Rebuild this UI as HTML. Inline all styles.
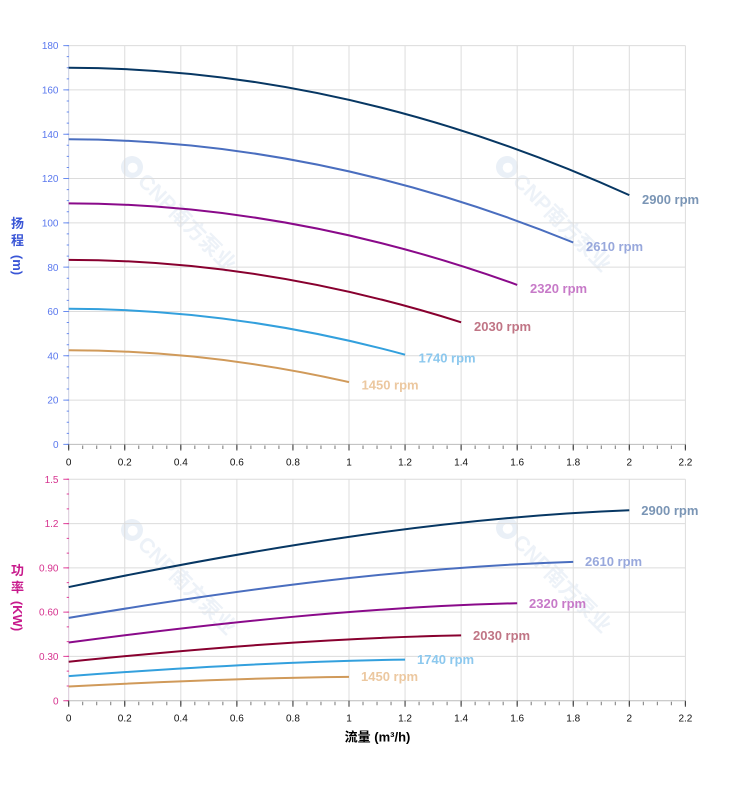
<!DOCTYPE html>
<html>
<head>
<meta charset="utf-8">
<style>
html,body{margin:0;padding:0;background:#fff;}
svg{display:block;font-family:"Liberation Sans","Noto Sans CJK SC",sans-serif;}
.yt{font-size:10px;text-anchor:end;}
.xt{font-size:10px;text-anchor:middle;fill:#111;}
.lbl{font-size:13px;font-weight:bold;}
.wm{font-size:21px;font-weight:bold;fill:#edf2f8;font-family:"Liberation Sans","Noto Sans CJK SC",sans-serif;}
</style>
</head>
<body>
<svg width="752" height="797" viewBox="0 0 752 797" xmlns="http://www.w3.org/2000/svg">
<rect x="0" y="0" width="752" height="797" fill="#fff"/>

<!-- watermarks -->
<g transform="translate(132,167) rotate(45)">
  <circle cx="0" cy="0" r="11" fill="#eaf0f7"/><circle cx="1" cy="0" r="5" fill="#fff"/>
  <text class="wm" x="14" y="7.5">CNP南方泵业</text>
</g>
<g transform="translate(507,167) rotate(45)">
  <circle cx="0" cy="0" r="11" fill="#eaf0f7"/><circle cx="1" cy="0" r="5" fill="#fff"/>
  <text class="wm" x="14" y="7.5">CNP南方泵业</text>
</g>
<g transform="translate(132,530) rotate(45)">
  <circle cx="0" cy="0" r="11" fill="#eaf0f7"/><circle cx="1" cy="0" r="5" fill="#fff"/>
  <text class="wm" x="14" y="7.5">CNP南方泵业</text>
</g>
<g transform="translate(507,528) rotate(45)">
  <circle cx="0" cy="0" r="11" fill="#eaf0f7"/><circle cx="1" cy="0" r="5" fill="#fff"/>
  <text class="wm" x="14" y="7.5">CNP南方泵业</text>
</g>

<!-- TOP CHART GRID -->
<g stroke="#dcdcdc" stroke-width="1" fill="none">
  <path d="M68.7 400.09H685.4M68.7 355.78H685.4M68.7 311.46H685.4M68.7 267.15H685.4M68.7 222.84H685.4M68.7 178.53H685.4M68.7 134.22H685.4M68.7 89.9H685.4M68.7 45.6H685.4"/>
  <path d="M124.76 45.6V444.4M180.82 45.6V444.4M236.88 45.6V444.4M292.94 45.6V444.4M349 45.6V444.4M405.06 45.6V444.4M461.12 45.6V444.4M517.18 45.6V444.4M573.24 45.6V444.4M629.3 45.6V444.4M685.4 45.6V444.4"/>
</g>
<line x1="68.7" y1="45.6" x2="68.7" y2="444.4" stroke="#c8cde0" stroke-width="1"/>
<line x1="68.7" y1="444.4" x2="685.4" y2="444.4" stroke="#bbbbbb" stroke-width="1"/>
<!-- y ticks top -->
<line x1="67.85" y1="444.9" x2="67.85" y2="45" stroke="#6a8cf0" stroke-width="2.3" stroke-dasharray="1 10.078"/>
<line x1="66.15" y1="444.9" x2="66.15" y2="45" stroke="#6a8cf0" stroke-width="5.7" stroke-dasharray="1 43.31"/>
<!-- x ticks top -->
<line x1="68.2" y1="447.25" x2="686" y2="447.25" stroke="#777" stroke-width="3.5" stroke-dasharray="1 13.015"/>
<line x1="68.2" y1="447.5" x2="686" y2="447.5" stroke="#333" stroke-width="6" stroke-dasharray="1 55.06"/>

<!-- y labels top -->
<g class="yt" fill="#5a78ee">
  <text x="58.5" y="448">0</text>
  <text x="58.5" y="403.7">20</text>
  <text x="58.5" y="359.4">40</text>
  <text x="58.5" y="315.1">60</text>
  <text x="58.5" y="270.8">80</text>
  <text x="58.5" y="226.4">100</text>
  <text x="58.5" y="182.1">120</text>
  <text x="58.5" y="137.8">140</text>
  <text x="58.5" y="93.5">160</text>
  <text x="58.5" y="49.2">180</text>
</g>
<!-- x labels top -->
<g class="xt">
  <text x="68.7" y="465.3">0</text>
  <text x="124.76" y="465.3">0.2</text>
  <text x="180.82" y="465.3">0.4</text>
  <text x="236.88" y="465.3">0.6</text>
  <text x="292.94" y="465.3">0.8</text>
  <text x="349" y="465.3">1</text>
  <text x="405.06" y="465.3">1.2</text>
  <text x="461.12" y="465.3">1.4</text>
  <text x="517.18" y="465.3">1.6</text>
  <text x="573.24" y="465.3">1.8</text>
  <text x="629.3" y="465.3">2</text>
  <text x="685.4" y="465.3">2.2</text>
</g>

<!-- y title top -->
<g font-size="13" font-weight="bold" fill="#3a56d6">
  <text x="17.5" y="228" text-anchor="middle">扬</text>
  <text x="17.5" y="245" text-anchor="middle">程</text>
  <text transform="translate(17.5,265) rotate(90)" text-anchor="middle" y="4.5">(m)</text>
</g>

<!-- head curves -->
<g fill="none" stroke-width="2">
  <path d="M68.7 67.75 Q349 68.3 629.3 195.14" stroke="#073763"/>
  <path d="M68.7 139.31 Q320.97 139.76 573.24 242.5" stroke="#4a6ebf"/>
  <path d="M68.7 203.34 Q292.94 203.7 517.18 284.88" stroke="#8a0a8a"/>
  <path d="M68.7 259.84 Q264.91 260.11 461.12 322.27" stroke="#88002f"/>
  <path d="M68.7 308.81 Q236.88 309 405.06 354.67" stroke="#33a0dd"/>
  <path d="M68.7 350.24 Q208.85 350.37 349 382.09" stroke="#d09a5a"/>
</g>
<g class="lbl">
  <text x="642" y="203.8" fill="#7a95b5">2900 rpm</text>
  <text x="586" y="251.2" fill="#98a8dc">2610 rpm</text>
  <text x="530" y="293" fill="#c77ac8">2320 rpm</text>
  <text x="474" y="331" fill="#c07585">2030 rpm</text>
  <text x="418.5" y="362.5" fill="#8cc8ee">1740 rpm</text>
  <text x="361.5" y="389.5" fill="#ecc8a0">1450 rpm</text>
</g>

<!-- BOTTOM CHART GRID -->
<g stroke="#dcdcdc" stroke-width="1" fill="none">
  <path d="M68.7 656.42H685.4M68.7 612.14H685.4M68.7 567.86H685.4M68.7 523.58H685.4M68.7 479.3H685.4"/>
  <path d="M124.76 479.3V700.7M180.82 479.3V700.7M236.88 479.3V700.7M292.94 479.3V700.7M349 479.3V700.7M405.06 479.3V700.7M461.12 479.3V700.7M517.18 479.3V700.7M573.24 479.3V700.7M629.3 479.3V700.7M685.4 479.3V700.7"/>
</g>
<line x1="68.7" y1="479.3" x2="68.7" y2="700.7" stroke="#d8c8d8" stroke-width="1"/>
<line x1="68.7" y1="700.7" x2="685.4" y2="700.7" stroke="#bbbbbb" stroke-width="1"/>
<!-- y ticks bottom -->
<line x1="67.85" y1="701.2" x2="67.85" y2="478.7" stroke="#e0409a" stroke-width="2.3" stroke-dasharray="1 13.76"/>
<line x1="66.15" y1="701.2" x2="66.15" y2="478.7" stroke="#e0409a" stroke-width="5.7" stroke-dasharray="1 43.28"/>
<!-- x ticks bottom -->
<line x1="68.2" y1="703.55" x2="686" y2="703.55" stroke="#777" stroke-width="3.5" stroke-dasharray="1 13.015"/>
<line x1="68.2" y1="703.8" x2="686" y2="703.8" stroke="#333" stroke-width="6" stroke-dasharray="1 55.06"/>

<!-- y labels bottom -->
<g class="yt" fill="#d6338f">
  <text x="58.5" y="704.3">0</text>
  <text x="58.5" y="660">0.30</text>
  <text x="58.5" y="615.7">0.60</text>
  <text x="58.5" y="571.5">0.90</text>
  <text x="58.5" y="527.2">1.2</text>
  <text x="58.5" y="482.9">1.5</text>
</g>
<!-- x labels bottom -->
<g class="xt">
  <text x="68.7" y="721.6">0</text>
  <text x="124.76" y="721.6">0.2</text>
  <text x="180.82" y="721.6">0.4</text>
  <text x="236.88" y="721.6">0.6</text>
  <text x="292.94" y="721.6">0.8</text>
  <text x="349" y="721.6">1</text>
  <text x="405.06" y="721.6">1.2</text>
  <text x="461.12" y="721.6">1.4</text>
  <text x="517.18" y="721.6">1.6</text>
  <text x="573.24" y="721.6">1.8</text>
  <text x="629.3" y="721.6">2</text>
  <text x="685.4" y="721.6">2.2</text>
</g>

<!-- y title bottom -->
<g font-size="13" font-weight="bold" fill="#c81a8c">
  <text x="17.5" y="575" text-anchor="middle">功</text>
  <text x="17.5" y="592" text-anchor="middle">率</text>
  <text transform="translate(17.5,616) rotate(90)" text-anchor="middle" y="4.5">(KW)</text>
</g>

<!-- x title -->
<text x="377.5" y="741.5" text-anchor="middle" font-size="13" font-weight="bold" fill="#000">流量 (m³/h)</text>

<!-- power curves -->
<g fill="none" stroke-width="2">
  <path d="M68.7 587.05 C255.57 548.37 442.43 517.46 629.3 510.29" stroke="#073763"/>
  <path d="M68.7 617.85 C236.88 589.66 405.06 567.12 573.24 561.89" stroke="#4a6ebf"/>
  <path d="M68.7 642.51 C218.19 622.71 367.69 606.88 517.18 603.21" stroke="#8a0a8a"/>
  <path d="M68.7 661.72 C199.51 648.45 330.31 637.85 461.12 635.39" stroke="#88002f"/>
  <path d="M68.7 676.15 C180.82 667.8 292.94 661.12 405.06 659.57" stroke="#33a0dd"/>
  <path d="M68.7 686.49 C162.13 681.66 255.57 677.8 349 676.9" stroke="#d09a5a"/>
</g>
<g class="lbl">
  <text x="641.3" y="515.2" fill="#7a95b5">2900 rpm</text>
  <text x="585" y="566.2" fill="#98a8dc">2610 rpm</text>
  <text x="529" y="607.8" fill="#c77ac8">2320 rpm</text>
  <text x="473" y="640.2" fill="#c07585">2030 rpm</text>
  <text x="417" y="664.2" fill="#8cc8ee">1740 rpm</text>
  <text x="361" y="681.2" fill="#ecc8a0">1450 rpm</text>
</g>
</svg>
</body>
</html>
